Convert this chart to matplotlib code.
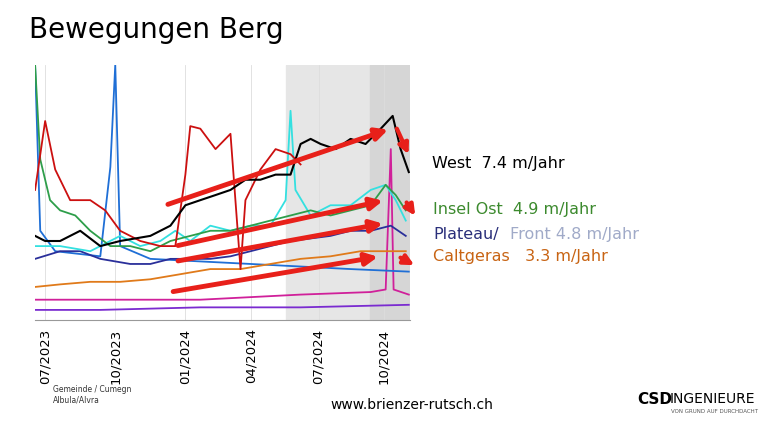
import matplotlib
matplotlib.use("Agg")
import matplotlib.pyplot as plt

# x: time axis (months-ish units), y: relative displacement (0-100)
tick_pos = [0, 3.0, 6.0, 8.8, 11.7, 14.5]
tick_labels = ["07/2023", "10/2023", "01/2024", "04/2024", "07/2024", "10/2024"]

west_x = [-0.43, 0, 0.64, 1.5, 2.36, 3.21, 4.5, 5.36, 6.0, 6.64, 7.29, 7.93, 8.57, 9.21, 9.86, 10.5, 10.93, 11.36, 11.79, 12.43, 13.07, 13.71, 14.36, 14.87, 15.21, 15.56]
west_y = [33, 31, 31, 35, 29, 31, 33, 37, 45, 47, 49, 51, 55, 55, 57, 57, 69, 71, 69, 67, 71, 69, 75, 80, 67, 58]

insel_x = [-0.43, -0.21, 0.21, 0.64, 1.29, 1.93, 2.79, 3.64, 4.5, 5.36, 6.21, 7.07, 7.93, 8.79, 9.64, 10.5, 11.36, 12.21, 13.07, 13.93, 14.57, 15.0, 15.43]
insel_y = [100, 63, 47, 43, 41, 35, 29, 29, 27, 31, 33, 35, 35, 37, 39, 41, 43, 41, 43, 45, 53, 49, 43]

plateau_x = [-0.43, 0.64, 1.5, 2.36, 3.64, 4.5, 5.36, 6.21, 7.07, 7.93, 8.79, 9.64, 10.5, 11.36, 12.21, 13.07, 13.93, 14.79, 15.43]
plateau_y = [24, 27, 27, 24, 22, 22, 24, 24, 24, 25, 27, 29, 31, 32, 33, 35, 35, 37, 33]

front_x = [-0.43, 0.64, 1.93, 3.21, 4.07, 4.93, 5.57, 6.21, 7.07, 7.93, 8.79, 9.64, 10.29, 10.5, 10.71, 11.36, 12.21, 13.07, 13.93, 14.57, 15.0, 15.43]
front_y = [29, 29, 27, 33, 29, 31, 35, 31, 37, 35, 37, 37, 47, 82, 51, 41, 45, 45, 51, 53, 47, 39]

calt_x = [-0.43, 0.64, 1.93, 3.21, 4.5, 5.79, 7.07, 8.36, 9.64, 10.93, 12.21, 13.5, 14.79, 15.43]
calt_y = [13, 14, 15, 15, 16, 18, 20, 20, 22, 24, 25, 27, 27, 27]

red_x = [-0.43, 0, 0.43, 1.07, 1.93, 2.57, 3.21, 4.07, 4.93, 5.57, 6.0, 6.21, 6.64, 7.29, 7.93, 8.36, 8.57, 9.21, 9.86, 10.5, 10.93]
red_y = [51, 78, 59, 47, 47, 43, 35, 31, 29, 29, 57, 76, 75, 67, 73, 20, 47, 59, 67, 65, 61]

mag_x = [-0.43, 1.5, 4.5, 6.64, 10.93, 13.93, 14.57, 14.79, 14.91, 15.56]
mag_y = [8, 8, 8, 8, 10, 11, 12, 67, 12, 10]

purple_x = [-0.43, 2.36, 6.64, 10.93, 15.56]
purple_y = [4, 4, 5, 5, 6]

blue_x = [-0.43, -0.21, 0.43, 2.36, 2.79, 3.0, 3.21, 4.5, 6.64, 8.79, 10.93, 13.07, 15.56]
blue_y = [100, 35, 27, 25, 60, 100, 29, 24, 23, 22, 21, 20, 19]

labels = ["West  7.4 m/Jahr", "Insel Ost  4.9 m/Jahr", "Caltgeras   3.3 m/Jahr"]

fig = plt.figure(figsize=(7.63, 4.24), dpi=100)
fig.patch.set_facecolor("white")
ax = fig.add_axes([0.046, 0.245, 0.491, 0.602])
ax.axvspan(10.3, 15.6, color="#e6e6e6", zorder=0)
ax.axvspan(13.9, 15.6, color="#d6d6d6", zorder=0)
for t in tick_pos:
    ax.axvline(t, color="#dddddd", lw=0.6, zorder=0)

ax.plot(purple_x, purple_y, color="#7a2bd0", lw=1.3)
ax.plot(mag_x, mag_y, color="#d0209a", lw=1.3)
ax.plot(blue_x, blue_y, color="#1f6fd6", lw=1.3)
ax.plot(calt_x, calt_y, color="#e07a1a", lw=1.3)
ax.plot(plateau_x, plateau_y, color="#2a2f9a", lw=1.3)
ax.plot(front_x, front_y, color="#34e0e0", lw=1.3)
ax.plot(insel_x, insel_y, color="#2e9e4a", lw=1.3)
ax.plot(red_x, red_y, color="#cc1010", lw=1.3)
ax.plot(west_x, west_y, color="black", lw=1.5)

arrows = [((5.14, 45), (14.79, 75)), ((5.57, 29), (14.57, 47)), ((5.57, 23), (14.57, 38)), ((5.36, 11), (14.36, 25))]
for (s, e) in arrows:
    ax.annotate("", xy=e, xytext=s, arrowprops=dict(arrowstyle="-|>", color="#e8201a", lw=3.5, mutation_scale=18))
small = [((15.0, 76), (15.6, 64)), ((15.4, 47), (15.9, 40)), ((15.1, 25), (15.9, 21))]
for (s, e) in small:
    ax.annotate("", xy=e, xytext=s, arrowprops=dict(arrowstyle="-|>", color="#e8201a", lw=3, mutation_scale=15), annotation_clip=False)

ax.set_xlim(-0.43, 15.6)
ax.set_ylim(0, 100)
ax.set_yticks([])
ax.set_xticks(tick_pos)
ax.set_xticklabels(tick_labels, rotation=90, fontsize=9.5)
ax.tick_params(axis="x", length=0, pad=6)
for s in ["top", "right", "left"]:
    ax.spines[s].set_visible(False)
ax.spines["bottom"].set_color("#999999")

fig.text(0.038, 0.93, "Bewegungen Berg", fontsize=20, va="center")
fig.text(0.566, 0.615, labels[0], fontsize=11.5, color="black", va="center")
fig.text(0.568, 0.505, labels[1], fontsize=11.5, color="#3c8a2e", va="center")
fig.text(0.568, 0.448, "Plateau/", fontsize=11.5, color="#2a2f7a", va="center")
fig.text(0.668, 0.448, "Front 4.8 m/Jahr", fontsize=11.5, color="#a0aac8", va="center")
fig.text(0.568, 0.395, labels[2], fontsize=11.5, color="#c86414", va="center")
fig.text(0.54, 0.045, "www.brienzer-rutsch.ch", fontsize=10, ha="center", va="center")
fig.text(0.07, 0.068, "Gemeinde / Cumegn\nAlbula/Alvra", fontsize=5.5, va="center", color="#333333")
fig.text(0.835, 0.058, "CSD", fontsize=11, fontweight="bold", va="center")
fig.text(0.878, 0.058, "INGENIEURE", fontsize=10, va="center")
fig.text(0.88, 0.03, "VON GRUND AUF DURCHDACHT", fontsize=4, va="center", color="#555555")
fig.savefig("out.png", dpi=100)
